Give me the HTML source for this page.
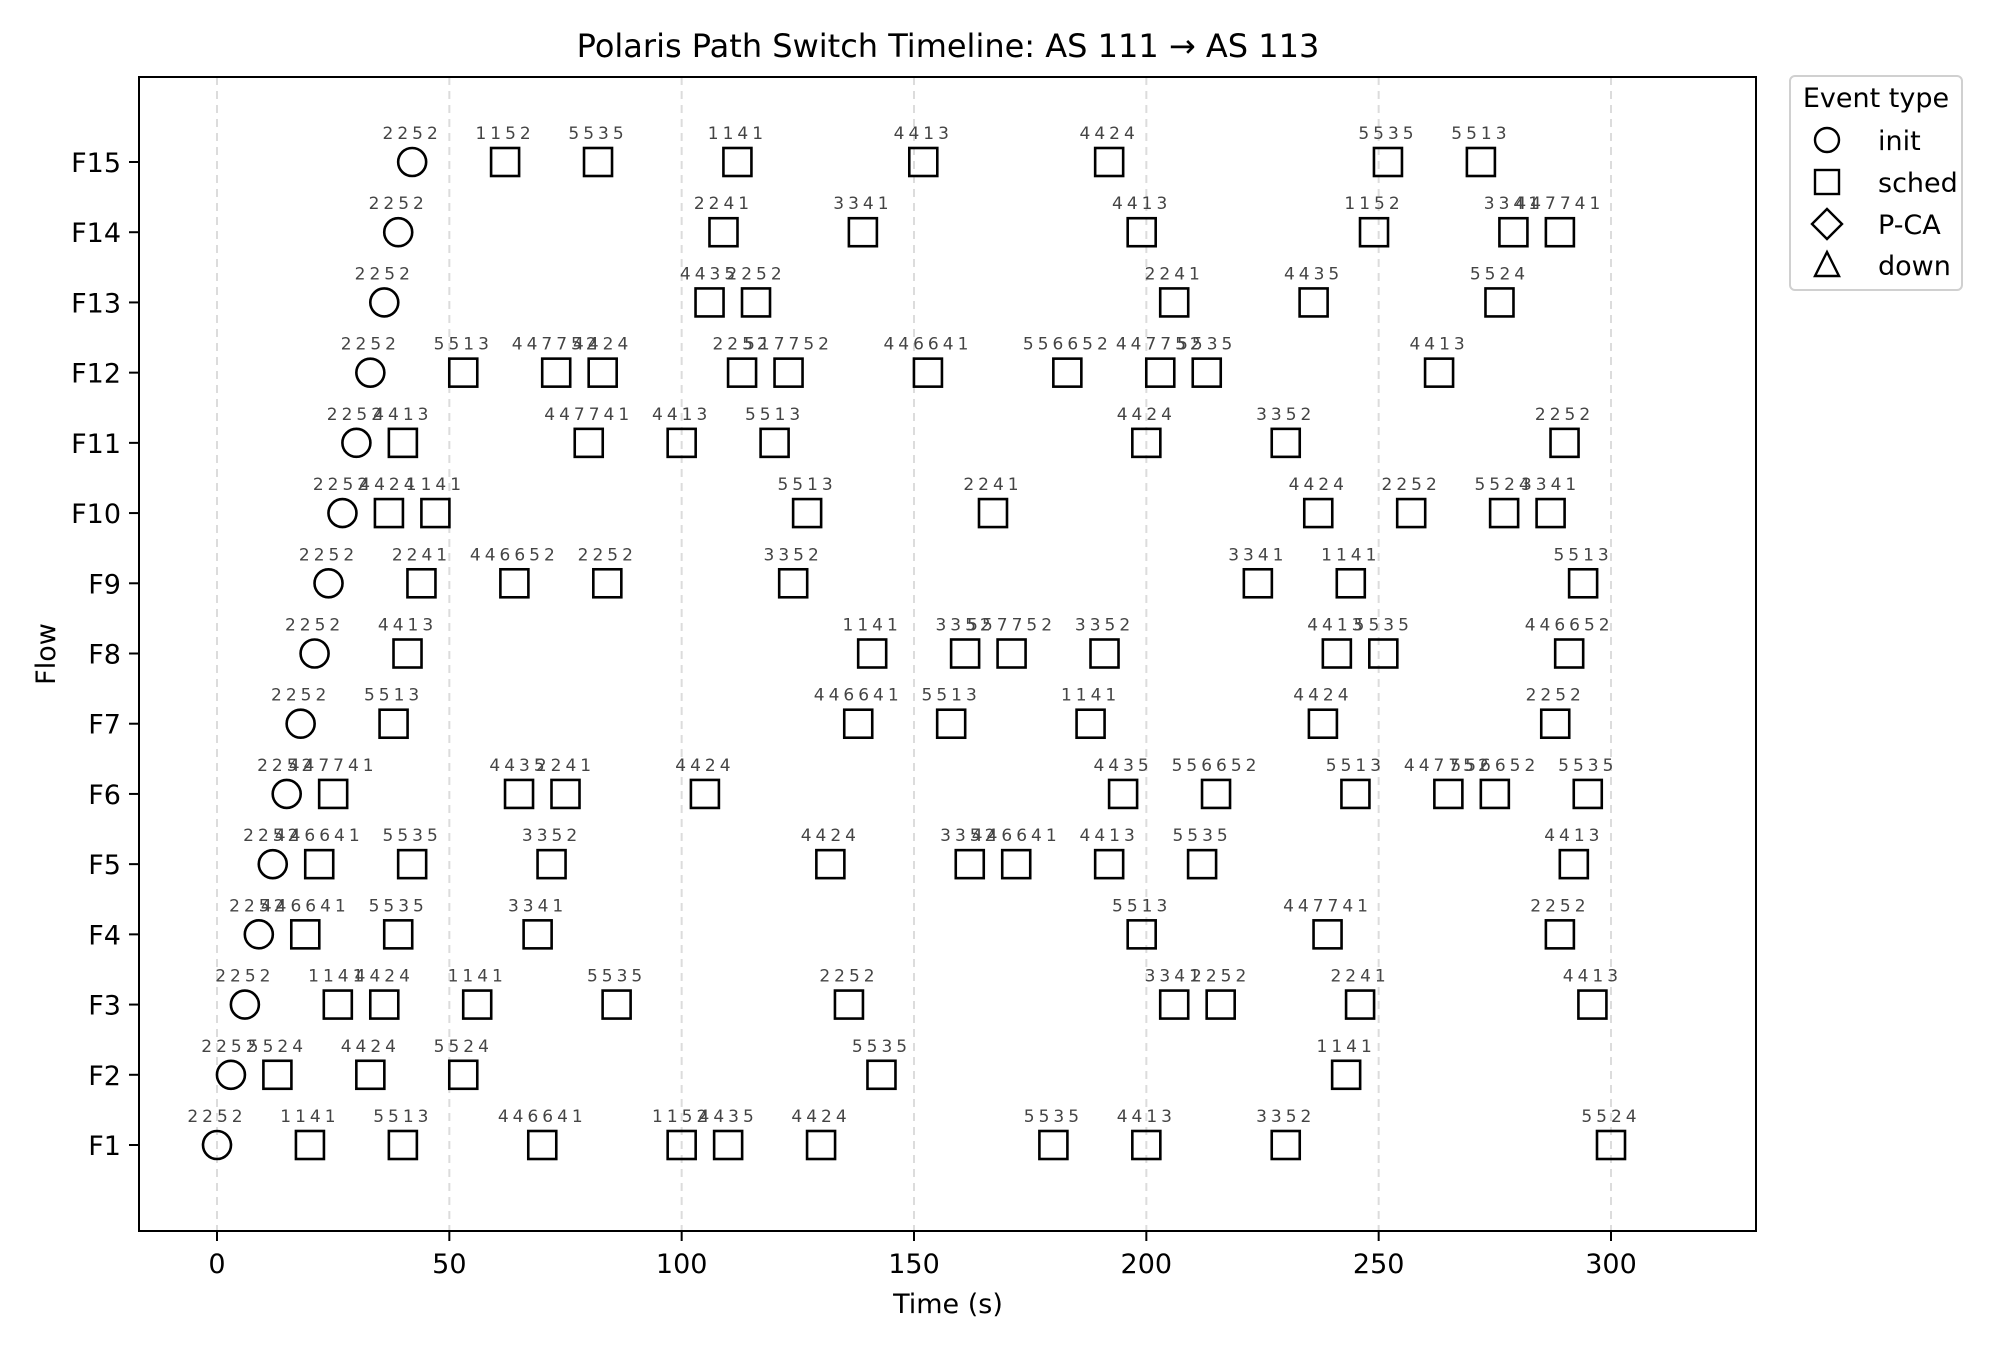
<!DOCTYPE html>
<html><head><meta charset="utf-8"><style>
body{margin:0;background:#fff}
svg{display:block;font-family:"DejaVu Sans","Liberation Sans",sans-serif}
</style></head><body>
<svg id="c" width="2000" height="1350" viewBox="0 0 2000 1350"></svg>
<script>
const flows=["F1","F2","F3","F4","F5","F6","F7","F8","F9","F10","F11","F12","F13","F14","F15"];
const initTimes=[0,3,6,9,12,15,18,21,24,27,30,33,36,39,42];
const schedTimes=[
[20,40,70,100,110,130,180,200,230,300],
[13,33,53,143,243],
[26,36,56,86,136,206,216,246,296],
[19,39,69,199,239,289],
[22,42,72,132,162,172,192,212,292],
[25,65,75,105,195,215,245,265,275,295],
[38,138,158,188,238,288],
[41,141,161,171,191,241,251,291],
[44,64,84,124,224,244,294],
[37,47,127,167,237,257,277,287],
[40,80,100,120,200,230,290],
[53,73,83,113,123,153,183,203,213,263],
[106,116,206,236,276],
[109,139,199,249,279,289],
[62,82,112,152,192,252,272]];
const schedLabels=[
["1141","5513","446641","1152","4435","4424","5535","4413","3352","5524"],
["5524","4424","5524","5535","1141"],
["1141","4424","1141","5535","2252","3341","2252","2241","4413"],
["446641","5535","3341","5513","447741","2252"],
["446641","5535","3352","4424","3352","446641","4413","5535","4413"],
["447741","4435","2241","4424","4435","556652","5513","447752","556652","5535"],
["5513","446641","5513","1141","4424","2252"],
["4413","1141","3352","557752","3352","4413","5535","446652"],
["2241","446652","2252","3352","3341","1141","5513"],
["4424","1141","5513","2241","4424","2252","5524","3341"],
["4413","447741","4413","5513","4424","3352","2252"],
["5513","447752","4424","2252","517752","446641","556652","447752","5535","4413"],
["4435","2252","2241","4435","5524"],
["2241","3341","4413","1152","3341","447741"],
["1152","5535","1141","4413","4424","5535","5513"]];
const initLabel="2252";
const xTicks=[0,50,100,150,200,250,300];

const svg=document.getElementById('c');const NS="http://www.w3.org/2000/svg";
function mk(t,a,p){const e=document.createElementNS(NS,t);for(const k in a)e.setAttribute(k,a[k]);(p||svg).appendChild(e);return e;}
const L=139,R=1756,T=77,B=1231;
const X=v=>217+(v)*(1611-217)/300;
const Y=i=>1145-i*(1145-162)/14;

const bg=mk('rect',{x:L,y:T,width:R-L,height:B-T,fill:'#fff'});


xTicks.forEach(t=>{
 const g=mk('line',{x1:X(t),x2:X(t),y1:T,y2:B,stroke:'#dcdcdc','stroke-width':2,'stroke-dasharray':'8,6'});
 
 
 const tk=mk('line',{x1:X(t),x2:X(t),y1:B,y2:B+10,stroke:'#000','stroke-width':2});
 
 
 const tl=mk('text',{x:X(t),y:B+42,'text-anchor':'middle','font-size':27});
 tl.textContent=t;
 
 
});
flows.forEach((f,i)=>{
 const tk=mk('line',{x1:L-10,x2:L,y1:Y(i),y2:Y(i),stroke:'#000','stroke-width':2});
 
 
 const tl=mk('text',{x:L-18,y:Y(i)+10,'text-anchor':'end','font-size':27});
 tl.textContent=f;
 
 
});
function label(x,y,txt){
 const t=mk('text',{x:x,y:y-23,'text-anchor':'middle','font-size':17,fill:'#444','letter-spacing':'4'});
 t.textContent=txt;
 
 
}
initTimes.forEach((v,i)=>{
 const e=mk('ellipse',{cx:X(v),cy:Y(i),rx:14,ry:14,fill:'none',stroke:'#000','stroke-width':2.6});
 
 
 label(X(v),Y(i),initLabel);
});
schedTimes.forEach((row,i)=>{
 row.forEach((v,j)=>{
  const r=mk('rect',{x:X(v)-14,y:Y(i)-14,width:28,height:28,fill:'none',stroke:'#000','stroke-width':2.6});
  
  
  label(X(v),Y(i),schedLabels[i][j]);
 });
});
const fr=mk('rect',{x:L,y:T,width:R-L,height:B-T,fill:'none',stroke:'#000','stroke-width':2});


</script>
<script>
(function(){
const svg=document.getElementById('c');const NS="http://www.w3.org/2000/svg";
function mk(t,a){const e=document.createElementNS(NS,t);for(const k in a)e.setAttribute(k,a[k]);svg.appendChild(e);return e;}
let t=mk('text',{x:948,y:57,'text-anchor':'middle','font-size':32});
t.textContent='Polaris Path Switch Timeline: AS 111 → AS 113';


t=mk('text',{x:948,y:1313,'text-anchor':'middle','font-size':27});
t.textContent='Time (s)';


t=mk('text',{x:55,y:654,'text-anchor':'middle','font-size':27,transform:'rotate(-90 55 654)'});
t.textContent='Flow';


const lb=mk('rect',{x:1790,y:76,width:172,height:214,rx:5,fill:'#fff',stroke:'#d0d0d0','stroke-width':2});


t=mk('text',{x:1876,y:107,'text-anchor':'middle','font-size':27});
t.textContent='Event type';


const names=['init','sched','P-CA','down'];const ys=[140,182,224,265];const mx=1827;
const shapes=[
 `<circle cx="${mx}" cy="${ys[0]}" r="12"/>`,
 `<rect x="${mx-12}" y="${ys[1]-12}" width="24" height="24"/>`,
 `<polygon points="${mx},${ys[2]-15} ${mx+15},${ys[2]} ${mx},${ys[2]+15} ${mx-15},${ys[2]}"/>`,
 `<polygon points="${mx},${ys[3]-13} ${mx+12},${ys[3]+11} ${mx-12},${ys[3]+11}"/>`];
names.forEach((n,i)=>{
 const g=mk('g',{fill:'none',stroke:'#000','stroke-width':2.4});
 g.innerHTML=shapes[i];
 
 
 const tx=mk('text',{x:1878,y:ys[i]+10,'font-size':27});
 tx.textContent=n;
 
 
});
})();
</script>
</body></html>
